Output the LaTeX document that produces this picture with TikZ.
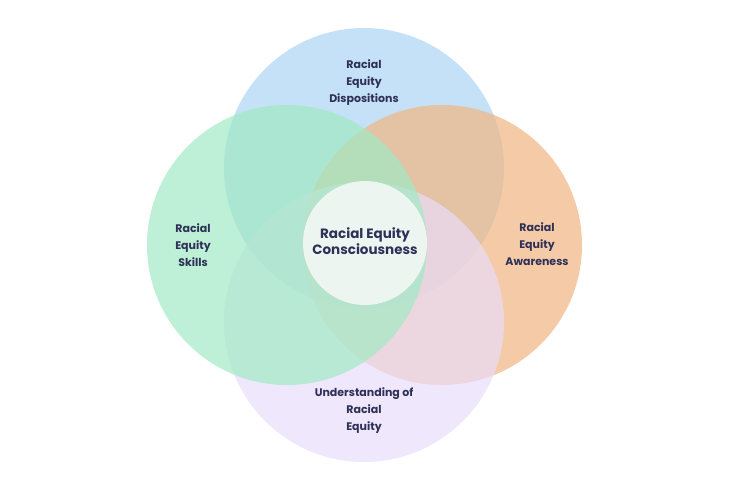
\documentclass[tikz,border=0pt]{standalone}
\usepackage{fontspec}
\setmainfont{Poppins}
\definecolor{dispblue}{RGB}{172,212,243}
\definecolor{awareorange}{RGB}{241,181,130}
\definecolor{underpurple}{RGB}{232,221,249}
\definecolor{skillgreen}{RGB}{161,234,196}
\definecolor{corefill}{RGB}{236,245,240}
\definecolor{inkblue}{RGB}{46,48,87}
\begin{document}
\begin{tikzpicture}[x=1pt, y=-1pt,
  ring/.style={circle, minimum size=280pt, inner sep=0pt, fill opacity=0.7},
  ringtext/.style={align=center, text=inkblue, font=\fontsize{11}{17}\selectfont\bfseries}]
\useasboundingbox (0,0) rectangle (738,490);
% the four circles, back to front
\node [ring, fill=dispblue] (disp) at (364,168) {};
\node [ring, fill=awareorange] (aware) at (442,245) {};
\node [ring, fill=underpurple] (under) at (364,322) {};
\node [ring, fill=skillgreen] (skill) at (287,245) {};
% centre circle
\node [circle, minimum size=124pt, inner sep=0pt, fill=corefill] (core) at (365,243) {};
% texts
\node [ringtext] (disptext) at (364,83) {Racial\\Equity\\Dispositions};
\node [ringtext] (skilltext) at (193,245) {Racial\\Equity\\Skills};
\node [ringtext] (awaretext) at (537,244) {Racial\\Equity\\Awareness};
\node [ringtext] (undertext) at (364,410.5) {Understanding of\\Racial\\Equity};
\node [ringtext, font=\fontsize{13.5}{16}\selectfont\bfseries] (coretext) at (365,241) {Racial Equity\\Consciousness};
\end{tikzpicture}
\end{document}
